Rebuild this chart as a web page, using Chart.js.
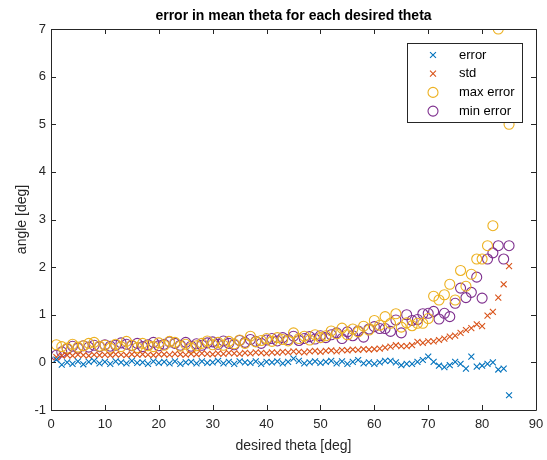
<!DOCTYPE html>
<html>
<head>
<meta charset="utf-8">
<script src="https://cdn.jsdelivr.net/npm/chart.js@4"></script>
<style>
  html, body { margin: 0; padding: 0; background: #fff; }
  #wrap { width: 547px; height: 460px; position: relative; }
</style>
</head>
<body>
<div id="wrap"><canvas id="chart" width="547" height="460"></canvas></div>
<script>
const theta = [
  1, 2, 3, 4, 5, 6, 7, 8, 9, 10,
  11, 12, 13, 14, 15, 16, 17, 18, 19, 20,
  21, 22, 23, 24, 25, 26, 27, 28, 29, 30,
  31, 32, 33, 34, 35, 36, 37, 38, 39, 40,
  41, 42, 43, 44, 45, 46, 47, 48, 49, 50,
  51, 52, 53, 54, 55, 56, 57, 58, 59, 60,
  61, 62, 63, 64, 65, 66, 67, 68, 69, 70,
  71, 72, 73, 74, 75, 76, 77, 78, 79, 80,
  81, 82, 83, 84, 85
];

const errorVals = [
  0.06, -0.05, 0.00, -0.03, 0.02, -0.04, 0.01, 0.03, -0.02, 0.01,
  -0.03, 0.02, 0.00, -0.02, 0.03, -0.01, 0.00, -0.03, 0.02, -0.01,
  0.01, -0.02, 0.02, -0.03, 0.00, 0.01, -0.02, 0.02, -0.01, 0.00,
  0.03, -0.02, 0.01, -0.03, 0.02, 0.00, -0.01, 0.02, -0.03, 0.01,
  0.00, 0.02, -0.02, 0.01, 0.08, 0.03, -0.02, 0.00, 0.02, -0.01,
  0.01, 0.03, -0.02, 0.02, -0.03, 0.01, 0.05, -0.02, 0.00, -0.03,
  0.00, 0.03, 0.03, 0.00, -0.06, -0.03, -0.03, 0.01, 0.05, 0.12,
  0.01, -0.07, -0.10, -0.06, 0.01, -0.03, -0.13, 0.12, -0.09, -0.07,
  -0.03, 0.00, -0.15, -0.13, -0.69
];

const stdVals = [
  0.11, 0.14, 0.15, 0.14, 0.16, 0.15, 0.14, 0.16, 0.15, 0.16,
  0.15, 0.17, 0.16, 0.15, 0.17, 0.16, 0.17, 0.16, 0.15, 0.17,
  0.17, 0.16, 0.18, 0.17, 0.16, 0.18, 0.17, 0.19, 0.18, 0.17,
  0.19, 0.18, 0.20, 0.19, 0.18, 0.20, 0.19, 0.21, 0.20, 0.19,
  0.21, 0.20, 0.22, 0.21, 0.23, 0.22, 0.21, 0.23, 0.24, 0.22,
  0.24, 0.25, 0.23, 0.26, 0.25, 0.27, 0.26, 0.28, 0.27, 0.28,
  0.29, 0.31, 0.33, 0.36, 0.34, 0.34, 0.36, 0.43, 0.41, 0.44,
  0.44, 0.47, 0.50, 0.54, 0.56, 0.62, 0.68, 0.72, 0.80, 0.76,
  0.98, 1.06, 1.36, 1.64, 2.02
];

const maxErrorVals = [
  0.37, 0.33, 0.30, 0.38, 0.32, 0.35, 0.40, 0.42, 0.34, 0.36,
  0.30, 0.38, 0.33, 0.44, 0.36, 0.31, 0.40, 0.35, 0.33, 0.41,
  0.36, 0.44, 0.42, 0.34, 0.38, 0.30, 0.35, 0.40, 0.45, 0.37,
  0.42, 0.36, 0.44, 0.39, 0.47, 0.40, 0.55, 0.43, 0.46, 0.50,
  0.44, 0.52, 0.48, 0.45, 0.62, 0.50, 0.55, 0.47, 0.58, 0.52,
  0.56, 0.66, 0.60, 0.72, 0.58, 0.70, 0.64, 0.76, 0.68, 0.88,
  0.78, 0.96, 0.82, 1.02, 0.74, 0.83, 0.77, 0.82, 0.82, 0.92,
  1.39, 1.31, 1.42, 1.64, 1.31, 1.93, 1.60, 1.85, 2.17, 2.17,
  2.45, 2.87, 7.00, 6.00, 5.00
];

const minErrorVals = [
  0.15, 0.22, 0.28, 0.34, 0.30, 0.35, 0.32, 0.36, 0.33, 0.37,
  0.34, 0.36, 0.41, 0.38, 0.35, 0.40, 0.33, 0.37, 0.42, 0.35,
  0.38, 0.43, 0.40, 0.36, 0.42, 0.34, 0.39, 0.36, 0.41, 0.43,
  0.38, 0.45, 0.40, 0.37, 0.46, 0.42, 0.48, 0.44, 0.40, 0.47,
  0.50, 0.45, 0.52, 0.48, 0.55, 0.46, 0.50, 0.54, 0.49, 0.56,
  0.52, 0.58, 0.62, 0.50, 0.64, 0.56, 0.66, 0.53, 0.70, 0.75,
  0.71, 0.71, 0.65, 0.89, 0.62, 1.00, 0.88, 0.90, 1.02, 1.03,
  1.07, 0.91, 1.03, 0.96, 1.24, 1.56, 1.36, 1.47, 1.79, 1.35,
  2.17, 2.30, 2.45, 2.17, 2.45
];

const seriesNames = ['error', 'std', 'max error', 'min error'];
const xTicks = [0, 10, 20, 30, 40, 50, 60, 70, 80, 90];
const yTicks = [-1, 0, 1, 2, 3, 4, 5, 6, 7];

const FONT = '"Liberation Sans", Arial, Helvetica, sans-serif';
const AXIS_COLOR = '#262626';

function toPoints(vals) {
  return theta.map((t, i) => ({ x: t, y: vals[i] }));
}

function crossSet(label, vals, color) {
  return {
    label, data: toPoints(vals),
    pointStyle: 'crossRot', pointRadius: 4.2, pointBorderWidth: 1.1,
    borderColor: color, backgroundColor: color, showLine: false
  };
}

function circleSet(label, vals, color) {
  return {
    label, data: toPoints(vals),
    pointStyle: 'circle', pointRadius: 5, pointBorderWidth: 1.1,
    borderColor: color, backgroundColor: 'rgba(0,0,0,0)', showLine: false
  };
}

// axes box, inward ticks, title and the boxed legend, matlab style
const matlabFrame = {
  id: 'matlabFrame',
  afterDatasetsDraw(chart) {
    const { ctx, chartArea: a, scales } = chart;
    ctx.save();
    ctx.strokeStyle = AXIS_COLOR;
    ctx.lineWidth = 1;
    ctx.beginPath();
    ctx.rect(Math.round(a.left) + 0.5, Math.round(a.top) + 0.5,
      Math.round(a.right - a.left), Math.round(a.bottom - a.top));
    ctx.stroke();
    ctx.beginPath();
    xTicks.forEach(v => {
      const px = Math.round(scales.x.getPixelForValue(v)) + 0.5;
      ctx.moveTo(px, a.bottom); ctx.lineTo(px, a.bottom - 5);
      ctx.moveTo(px, a.top); ctx.lineTo(px, a.top + 5);
    });
    yTicks.forEach(v => {
      const py = Math.round(scales.y.getPixelForValue(v)) + 0.5;
      ctx.moveTo(a.left, py); ctx.lineTo(a.left + 5, py);
      ctx.moveTo(a.right, py); ctx.lineTo(a.right - 5, py);
    });
    ctx.stroke();

    // legend
    const lx = 407, ly = 43, lw = 115, lh = 79;
    ctx.fillStyle = '#fff';
    ctx.fillRect(lx, ly, lw, lh);
    ctx.strokeStyle = AXIS_COLOR;
    ctx.strokeRect(lx + 0.5, ly + 0.5, lw, lh);
    ctx.font = '13px ' + FONT;
    ctx.textBaseline = 'middle';
    ctx.textAlign = 'left';
    chart.data.datasets.forEach((ds, i) => {
      const y = ly + 12 + i * 18.7;
      const r = ds.pointRadius;
      ctx.strokeStyle = ds.borderColor;
      ctx.lineWidth = ds.pointBorderWidth;
      ctx.beginPath();
      if (ds.pointStyle === 'circle') {
        ctx.arc(433, y, r, 0, Math.PI * 2);
      } else {
        const d = r * Math.SQRT1_2;
        ctx.moveTo(433 - d, y - d); ctx.lineTo(433 + d, y + d);
        ctx.moveTo(433 - d, y + d); ctx.lineTo(433 + d, y - d);
      }
      ctx.stroke();
      ctx.fillStyle = '#000';
      ctx.fillText(ds.label, 459, y);
    });

    // title
    ctx.font = 'bold 14px ' + FONT;
    ctx.fillStyle = '#000';
    ctx.textAlign = 'center';
    ctx.textBaseline = 'middle';
    ctx.fillText('error in mean theta for each desired theta', (a.left + a.right) / 2, 16);
    ctx.restore();
  }
};

new Chart(document.getElementById('chart'), {
  type: 'scatter',
  data: {
    datasets: [
      crossSet(seriesNames[0], errorVals, '#0072BD'),
      crossSet(seriesNames[1], stdVals, '#D95319'),
      circleSet(seriesNames[2], maxErrorVals, '#EDB120'),
      circleSet(seriesNames[3], minErrorVals, '#7E2F8E')
    ]
  },
  options: {
    responsive: false,
    animation: false,
    layout: { padding: { top: 29, right: 11, left: 0, bottom: 0 } },
    plugins: {
      legend: { display: false },
      title: { display: false },
      tooltip: { enabled: false }
    },
    scales: {
      x: {
        type: 'linear', min: 0, max: 90,
        afterBuildTicks: s => { s.ticks = xTicks.map(v => ({ value: v })); },
        afterFit: s => { s.height = 50; s.paddingLeft = 0; s.paddingRight = 0; },
        grid: { display: false, drawTicks: false },
        border: { display: false },
        ticks: { color: AXIS_COLOR, font: { family: FONT, size: 13 }, padding: 7, maxRotation: 0 },
        title: {
          display: true, text: 'desired theta [deg]', color: AXIS_COLOR,
          font: { family: FONT, size: 14 }, padding: { top: 0, bottom: 5 }
        }
      },
      y: {
        type: 'linear', min: -1, max: 7,
        afterBuildTicks: s => { s.ticks = yTicks.map(v => ({ value: v })); },
        afterFit: s => { s.width = 51; s.paddingTop = 0; s.paddingBottom = 0; },
        grid: { display: false, drawTicks: false },
        border: { display: false },
        ticks: { color: AXIS_COLOR, font: { family: FONT, size: 13 }, padding: 5 },
        title: {
          display: true, text: 'angle [deg]', color: AXIS_COLOR,
          font: { family: FONT, size: 14 }, padding: { top: 14, bottom: 0 }
        }
      }
    }
  },
  plugins: [matlabFrame]
});
</script>
</body>
</html>
